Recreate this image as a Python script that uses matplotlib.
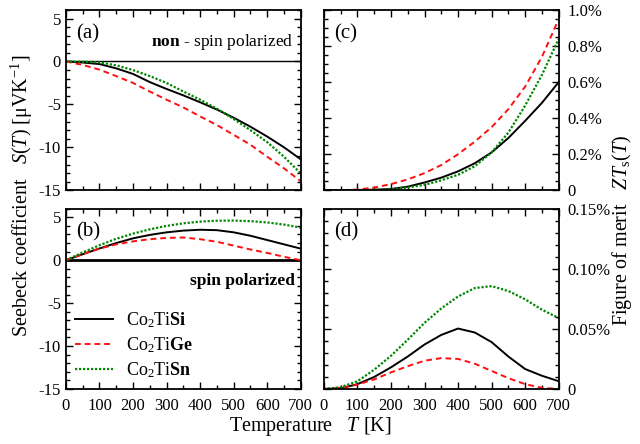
import matplotlib
matplotlib.use("Agg")
import matplotlib.pyplot as plt
from matplotlib.ticker import MultipleLocator, FuncFormatter

plt.rcParams['font.family'] = ['Liberation Serif', 'DejaVu Serif']
plt.rcParams['mathtext.fontset'] = 'custom'
plt.rcParams['mathtext.rm'] = 'Liberation Serif'
plt.rcParams['mathtext.it'] = 'Liberation Serif:italic'
plt.rcParams['mathtext.bf'] = 'Liberation Serif:bold'
plt.rcParams['axes.unicode_minus'] = False

# ---- data ----
T = [0, 50, 100, 150, 200, 250, 300, 350, 400, 450, 500, 550, 600, 650, 700]
materials = ["Co$_2$Ti$\\mathbf{Si}$", "Co$_2$Ti$\\mathbf{Ge}$", "Co$_2$Ti$\\mathbf{Sn}$"]

# (a) non-spin polarized Seebeck [uV/K]
S_np_Si = [0, -0.12, -0.3, -0.8, -1.45, -2.4, -3.2, -3.95, -4.75, -5.6, -6.55, -7.6, -8.75, -10.0, -11.4]
S_np_Ge = [0, -0.4, -0.95, -1.7, -2.5, -3.5, -4.45, -5.35, -6.4, -7.4, -8.55, -9.7, -11.1, -12.45, -13.95]
S_np_Sn = [0, -0.02, -0.1, -0.45, -1.0, -1.7, -2.5, -3.5, -4.45, -5.5, -6.7, -8.0, -9.4, -11.1, -13.05]

# (b) spin polarized Seebeck [uV/K]
S_sp_Si = [0, 0.7, 1.37, 2.0, 2.55, 2.95, 3.25, 3.45, 3.55, 3.5, 3.25, 2.85, 2.35, 1.85, 1.35]
S_sp_Ge = [0, 0.7, 1.35, 1.85, 2.2, 2.45, 2.6, 2.65, 2.45, 2.15, 1.7, 1.25, 0.85, 0.4, 0.0]
S_sp_Sn = [0, 0.9, 1.75, 2.5, 3.1, 3.6, 4.0, 4.3, 4.5, 4.6, 4.62, 4.55, 4.4, 4.15, 3.8]

# (c) non-spin polarized ZT [%]
ZT_np_Si = [0, 0, 0.001, 0.003, 0.007, 0.02, 0.043, 0.07, 0.105, 0.15, 0.21, 0.29, 0.385, 0.485, 0.60]
ZT_np_Ge = [0, 0.0005, 0.004, 0.015, 0.034, 0.06, 0.095, 0.14, 0.2, 0.27, 0.35, 0.45, 0.575, 0.74, 0.95]
ZT_np_Sn = [0, 0, 0.0005, 0.002, 0.005, 0.015, 0.03, 0.055, 0.086, 0.133, 0.21, 0.32, 0.47, 0.64, 0.84]

# (d) spin polarized ZT [%]
ZT_sp_Si = [0, 0.0005, 0.004, 0.01, 0.018, 0.027, 0.037, 0.045, 0.0503, 0.047, 0.039, 0.027, 0.0166, 0.011, 0.0065]
ZT_sp_Ge = [0, 0.001, 0.0036, 0.008, 0.0138, 0.019, 0.0235, 0.0257, 0.025, 0.021, 0.015, 0.009, 0.004, 0.001, 0.0]
ZT_sp_Sn = [0, 0.0015, 0.0064, 0.016, 0.0276, 0.041, 0.055, 0.067, 0.077, 0.084, 0.0856, 0.0815, 0.0746, 0.066, 0.059]

styles = [dict(color='black', ls='-', lw=1.4),
          dict(color='#ff1010', ls=(0, (3.0, 2.0)), lw=1.4),
          dict(color='#008800', ls=(0, (1.0, 0.8)), lw=1.6)]

fig = plt.figure(figsize=(6.4, 4.44), dpi=100)
W = 0.367
H = 0.406
axa = fig.add_axes([0.103, 0.5715, W, H])
axb = fig.add_axes([0.103, 0.1239, W, H])
axc = fig.add_axes([0.506, 0.5715, W, H])
axd = fig.add_axes([0.506, 0.1239, W, H])

TICK_FS = 12

def style(ax, right=False, xlabels=False):
    ax.set_xlim(0, 700)
    ax.xaxis.set_major_locator(MultipleLocator(100))
    ax.xaxis.set_minor_locator(MultipleLocator(50))
    ax.tick_params(which='both', direction='in', top=True, right=True, left=True, bottom=True,
                   labelsize=TICK_FS, width=1.0)
    ax.tick_params(which='major', length=5)
    ax.tick_params(which='minor', length=3)
    ax.tick_params(axis='x', pad=6.5)
    if right:
        ax.tick_params(axis='y', labelleft=False, labelright=True, pad=6)
    if not xlabels:
        ax.tick_params(labelbottom=False)
    for s in ax.spines.values():
        s.set_linewidth(1.3)

for ax, data in [(axa, [S_np_Si, S_np_Ge, S_np_Sn]), (axb, [S_sp_Si, S_sp_Ge, S_sp_Sn])]:
    for d, st in zip(data, styles):
        ax.plot(T, d, **st)
    ax.set_ylim(-15, 6)
    ax.yaxis.set_major_locator(MultipleLocator(5))
    ax.yaxis.set_minor_locator(MultipleLocator(1))

axa.axhline(0, color='black', lw=1.0, zorder=0.5)
axb.axhline(0, color='black', lw=2.0, zorder=0.5)

style(axa)
style(axb, xlabels=True)

for d, st in zip([ZT_np_Si, ZT_np_Ge, ZT_np_Sn], styles):
    axc.plot(T, d, **st)
for d, st in zip([ZT_sp_Si, ZT_sp_Ge, ZT_sp_Sn], styles):
    axd.plot(T, d, **st)

axc.set_ylim(0, 1.0)
axc.yaxis.set_major_locator(MultipleLocator(0.2))
axc.yaxis.set_minor_locator(MultipleLocator(0.05))
axc.yaxis.set_major_formatter(FuncFormatter(lambda v, p: '0' if abs(v) < 1e-9 else f'{v:.1f}%'))

axd.set_ylim(0, 0.15)
axd.yaxis.set_major_locator(MultipleLocator(0.05))
axd.yaxis.set_minor_locator(MultipleLocator(0.01))
axd.yaxis.set_major_formatter(FuncFormatter(lambda v, p: '0' if abs(v) < 1e-9 else f'{v:.2f}%'))

style(axc, right=True)
style(axd, right=True, xlabels=True)

# legend in (b)
handles = [plt.Line2D([], [], **st) for st in styles]
axb.legend(handles, materials, loc='lower left', bbox_to_anchor=(0.0, 0.0), frameon=False,
           fontsize=13, handlelength=2.1, handletextpad=0.7, labelspacing=0.3,
           borderaxespad=0.1)

# panel labels
for ax, lab in [(axa, '(a)'), (axb, '(b)'), (axc, '(c)'), (axd, '(d)')]:
    ax.text(0.043, 0.87, lab, transform=ax.transAxes, fontsize=15, va='center', ha='left')

axa.text(0.967, 0.82, r'$\mathbf{non}$ - spin polarized', transform=axa.transAxes,
         fontsize=12.5, ha='right', va='center')
axb.text(0.975, 0.6, 'spin polarized', transform=axb.transAxes, fontsize=12.5,
         fontweight='bold', ha='right', va='center')

fig.text(0.034, 0.56, 'Seebeck coefficient   $S(T)$ [μVK$^{-1}$]', rotation=90,
         fontsize=14.5, ha='center', va='center')
fig.text(0.972, 0.48, 'Figure of merit   $ZT_{\\rm s}(T)$', rotation=90,
         fontsize=14.5, ha='center', va='center')
fig.text(0.485, 0.04, 'Temperature   $T$ [K]', fontsize=14.5, ha='center', va='center')

fig.savefig('out.png', dpi=100)
